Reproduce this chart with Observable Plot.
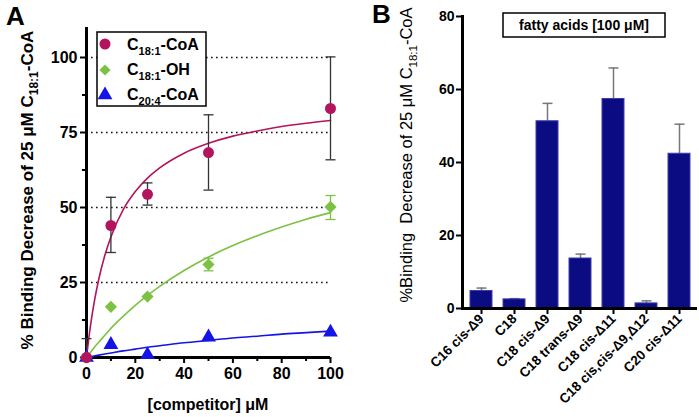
<!DOCTYPE html>
<html><head><meta charset="utf-8">
<script src="https://cdn.jsdelivr.net/npm/d3@7"></script>
<script src="https://cdn.jsdelivr.net/npm/@observablehq/plot@0.6"></script>
<style>
body{margin:0;background:#fff;}
#wrap{position:relative;width:699px;height:417px;overflow:hidden;background:#fff;}
#a,#b{position:absolute;top:0;}
#a{left:0;} #b{left:370px;}
svg{overflow:visible;}
</style></head><body>
<div id="wrap"><div id="a"></div><div id="b"></div></div>
<script>
// ---------- Panel A data ----------
const concA = [0, 10, 25, 50, 100];
const coaMean = [0, 44, 54.4, 68.3, 83];
const coaLow  = [0, 35, 50.8, 55.8, 65.9];
const coaHigh = [6.3, 53.4, 58.2, 80.9, 100.2];
const ohMean  = [0, 16.9, 20.3, 31, 50.2];
const ohLow   = [null, null, null, 28.9, 46];
const ohHigh  = [null, null, null, 33.1, 54];
const araMean = [0, 4.3, 0.9, 6.8, 8.4];
// fitted curves
const curveX   = [0, 1, 2, 3, 5, 7.5, 10, 15, 20, 25, 30, 40, 50, 60, 70, 80, 90, 100];
const coaCurve = [0, 6.8, 12.6, 17.7, 26.0, 34.0, 40.2, 49.2, 55.3, 59.8, 63.2, 68.1, 71.4, 73.8, 75.5, 77.0, 78.1, 79.0];
const ohCurve  = [0, 1.1, 2.1, 3.2, 5.1, 7.4, 9.7, 13.7, 17.4, 20.7, 23.7, 29.0, 33.5, 37.3, 40.6, 43.5, 46.1, 48.3];
const araCurve = [0, 0.16, 0.32, 0.47, 0.78, 1.15, 1.5, 2.2, 2.8, 3.4, 3.9, 4.9, 5.7, 6.5, 7.1, 7.8, 8.3, 8.8];
const yTicksA = [0, 25, 50, 75, 100];
const yMinorA = [12.5, 37.5, 62.5, 87.5];
const gridA = [25, 50, 75, 100];
const xTicksA = [0, 20, 40, 60, 80, 100];
const xMinorA = [10, 30, 50, 70, 90];

// ---------- Panel B data ----------
const faLabels = ["C16 cis-Δ9", "C18", "C18 cis-Δ9", "C18 trans-Δ9", "C18 cis-Δ11", "C18 cis,cis-Δ9,Δ12", "C20 cis-Δ11"];
const faMean = [4.8, 2.5, 51.3, 13.7, 57.4, 1.4, 42.4];
const faHigh = [5.6, 2.7, 56.2, 14.9, 65.9, 2.1, 50.5];
const yTicksB = [0, 20, 40, 60, 80];

const FONT = "'Liberation Sans', Arial, sans-serif";
const MAG = "#b3145d", GRN = "#7cc242", BLU = "#1414e6";

const capSymbol = {draw(ctx, size) { const r = Math.sqrt(size / Math.PI); ctx.moveTo(-r, 0); ctx.lineTo(r, 0); }};

const coaRows = concA.map((x, i) => ({x, y: coaMean[i], lo: coaLow[i], hi: coaHigh[i]}));
const ohRows = concA.map((x, i) => ({x, y: ohMean[i], lo: ohLow[i], hi: ohHigh[i]}));
const araRows = concA.map((x, i) => ({x, y: araMean[i]}));
const curveRows = (arr) => curveX.map((x, i) => ({x, y: arr[i]}));

function rich(textSel, parts, size, subSize) {
  let shifted = false;
  parts.forEach(([t, sub]) => {
    const ts = textSel.append("tspan").text(t).attr("font-size", sub ? subSize : size);
    if (sub && !shifted) { ts.attr("dy", size * 0.3); shifted = true; }
    else if (!sub && shifted) { ts.attr("dy", -size * 0.3); shifted = false; }
  });
}

const plotA = Plot.plot({
  width: 360, height: 417,
  marginLeft: 86, marginRight: 30, marginTop: 27, marginBottom: 60,
  style: {fontFamily: FONT, background: "transparent", color: "#000"},
  x: {domain: [0, 100]},
  y: {domain: [0, 110]},
  marks: [
    Plot.ruleY(gridA, {stroke: "#111", strokeWidth: 1.6, strokeDasharray: "1.6,3.4"}),
    Plot.axisY({ticks: yTicksA, tickSize: 6, tickPadding: 3, fontSize: 16, fontWeight: "bold", label: null, strokeWidth: 2}),
    Plot.axisY({ticks: yMinorA, tickSize: 4, tickFormat: () => "", label: null, strokeWidth: 2}),
    Plot.axisX({ticks: xTicksA, tickSize: 6, tickPadding: 4, fontSize: 16, fontWeight: "bold", label: null, strokeWidth: 2}),
    Plot.axisX({ticks: xMinorA, tickSize: 4, tickFormat: () => "", label: null, strokeWidth: 2}),
    Plot.ruleX([0], {strokeWidth: 3}),
    Plot.ruleY([0], {strokeWidth: 3}),
    Plot.line(curveRows(coaCurve), {x: "x", y: "y", stroke: MAG, strokeWidth: 1.6, curve: "monotone-x"}),
    Plot.line(curveRows(ohCurve), {x: "x", y: "y", stroke: GRN, strokeWidth: 1.6, curve: "monotone-x"}),
    Plot.line(curveRows(araCurve), {x: "x", y: "y", stroke: BLU, strokeWidth: 1.6, curve: "monotone-x"}),
    Plot.ruleX(coaRows, {x: "x", y1: "lo", y2: "hi", stroke: "#333", strokeWidth: 1.3}),
    Plot.dot(coaRows, {x: "x", y: "hi", symbol: capSymbol, r: 5, stroke: "#333", fill: "none", strokeWidth: 1.3}),
    Plot.dot(coaRows.filter(d => d.lo > 0), {x: "x", y: "lo", symbol: capSymbol, r: 5, stroke: "#333", fill: "none", strokeWidth: 1.3}),
    Plot.ruleX(ohRows.filter(d => d.hi != null), {x: "x", y1: "lo", y2: "hi", stroke: GRN, strokeWidth: 1.3}),
    Plot.dot(ohRows.filter(d => d.hi != null), {x: "x", y: "hi", symbol: capSymbol, r: 5, stroke: GRN, fill: "none", strokeWidth: 1.3}),
    Plot.dot(ohRows.filter(d => d.hi != null), {x: "x", y: "lo", symbol: capSymbol, r: 5, stroke: GRN, fill: "none", strokeWidth: 1.3}),
    Plot.dot(araRows, {x: "x", y: "y", symbol: "triangle", r: 5.5, fill: BLU, stroke: "none"}),
    Plot.dot(ohRows, {x: "x", y: "y", symbol: "diamond2", r: 5.5, fill: GRN, stroke: "none"}),
    Plot.dot(coaRows, {x: "x", y: "y", r: 5.5, fill: MAG, stroke: "none"})
  ]
});
document.getElementById("a").append(plotA);

{
  const s = d3.select(plotA);
  s.append("text").attr("x", 6).attr("y", 25).attr("text-anchor", "start").attr("font-size", 26).attr("font-weight", "bold").attr("font-family", FONT).text("A");
  // y title
  const t = s.append("text").attr("transform", "translate(33,190) rotate(-90)").attr("text-anchor", "middle")
    .attr("font-weight", "bold").attr("font-family", FONT).attr("fill", "#000");
  rich(t, [["% Binding Decrease of 25 μM C", false], ["18:1", true], ["-CoA", false]], 17, 12);
  // x title
  s.append("text").attr("x", 208).attr("y", 410).attr("text-anchor", "middle").attr("font-weight", "bold")
    .attr("font-size", 16).attr("font-family", FONT).text("[competitor] μM");
  // legend
  const g = s.append("g").attr("font-family", FONT).attr("font-weight", "bold").attr("text-anchor", "start");
  g.append("rect").attr("x", 97).attr("y", 32).attr("width", 109).attr("height", 74).attr("fill", "#fff").attr("stroke", "#000").attr("stroke-width", 1.5);
  g.append("circle").attr("cx", 105).attr("cy", 44).attr("r", 5.5).attr("fill", MAG);
  g.append("path").attr("d", d3.symbol(d3.symbolDiamond2, 5 * 5 * Math.PI)()).attr("transform", "translate(105,70)").attr("fill", GRN);
  g.append("path").attr("d", d3.symbol(d3.symbolTriangle, 5.5 * 5.5 * Math.PI)()).attr("transform", "translate(105,95)").attr("fill", BLU);
  const entries = [[["C", false], ["18:1", true], ["-CoA", false]], [["C", false], ["18:1", true], ["-OH", false]], [["C", false], ["20:4", true], ["-CoA", false]]];
  entries.forEach((p, i) => {
    const tx = g.append("text").attr("x", 127).attr("y", 50 + i * 25);
    rich(tx, p, 16, 11);
  });
}

const barRows = faLabels.map((label, i) => ({label, v: faMean[i], hi: faHigh[i]}));

const plotB = Plot.plot({
  width: 329, height: 417,
  marginLeft: 92, marginRight: 2, marginTop: 16, marginBottom: 109,
  style: {fontFamily: FONT, background: "transparent", color: "#000"},
  x: {domain: faLabels, paddingInner: 0.34, paddingOuter: 0.17},
  y: {domain: [0, 80]},
  marks: [
    Plot.ruleX(barRows, {x: "label", y1: "v", y2: "hi", stroke: "#777", strokeWidth: 1.5}),
    Plot.dot(barRows, {x: "label", y: "hi", symbol: capSymbol, r: 5, stroke: "#777", fill: "none", strokeWidth: 1.5}),
    Plot.barY(barRows, {x: "label", y: "v", fill: "#0b0b82", stroke: "#3c3cb4", strokeWidth: 1}),
    Plot.axisY({ticks: yTicksB, tickSize: 6, tickPadding: 2, fontSize: 14, fontWeight: "bold", label: null, strokeWidth: 2}),
    Plot.axisX({tickSize: 6, tickPadding: 2, tickRotate: -45, fontSize: 13.5, fontWeight: "bold", label: null, strokeWidth: 2}),
    Plot.frame({anchor: "left", strokeWidth: 3}),
    Plot.ruleY([0], {strokeWidth: 3})
  ]
});
document.getElementById("b").append(plotB);

{
  const s = d3.select(plotB);
  s.append("text").attr("x", 2).attr("y", 23).attr("text-anchor", "start").attr("font-size", 26).attr("font-weight", "bold").attr("font-family", FONT).text("B");
  const t = s.append("text").attr("transform", "translate(42,155) rotate(-90)").attr("text-anchor", "middle")
    .attr("font-family", FONT).attr("fill", "#000");
  rich(t, [["%Binding  Decrease of 25 μM C", false], ["18:1", true], ["-CoA", false]], 16.5, 11.5);
  t.attr("xml:space", "preserve").style("white-space", "pre");
  const g = s.append("g").attr("font-family", FONT);
  g.append("rect").attr("x", 133).attr("y", 13).attr("width", 162).attr("height", 24).attr("fill", "#fff").attr("stroke", "#000").attr("stroke-width", 1.5);
  g.append("text").attr("x", 214).attr("y", 30).attr("text-anchor", "middle").attr("font-weight", "bold").attr("font-size", 14).text("fatty acids [100 μM]");
}
</script>
</body></html>
